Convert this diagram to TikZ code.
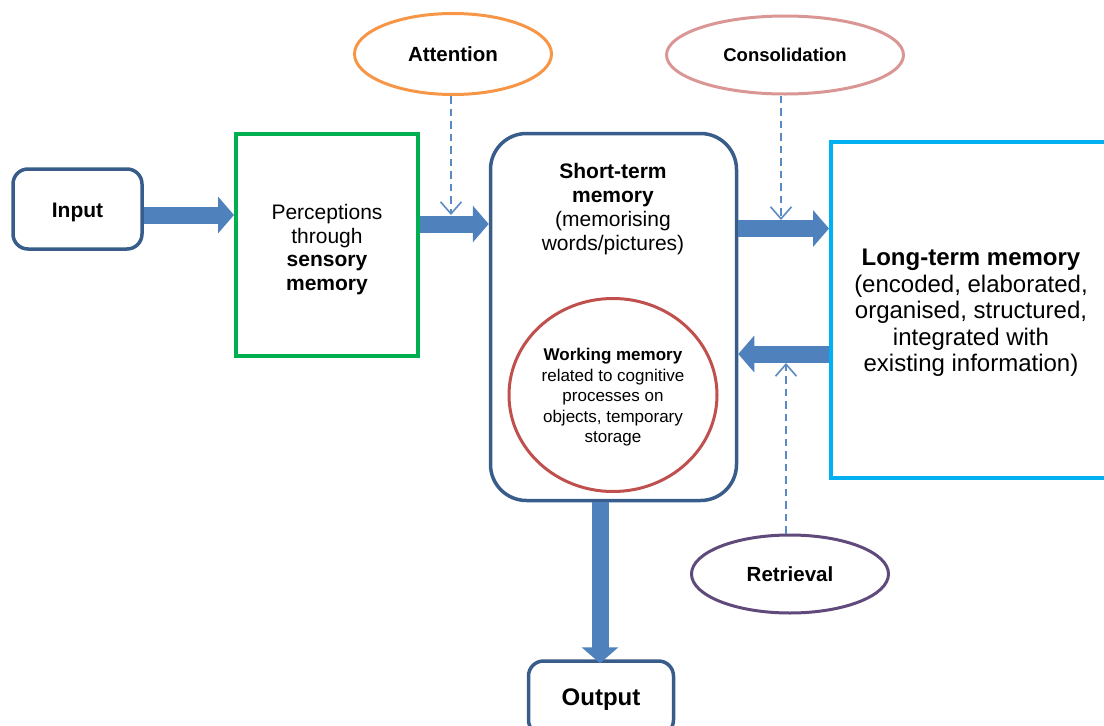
\documentclass[tikz,border=0pt]{standalone}
\usepackage{fontspec}
\setmainfont{Liberation Sans}
\usetikzlibrary{arrows.meta,shapes.geometric,calc}

\definecolor{frameblue}{HTML}{385D8A}
\definecolor{flowblue}{HTML}{4F81BD}
\definecolor{dashblue}{HTML}{5A89C3}
\definecolor{sensegreen}{HTML}{00B050}
\definecolor{longcyan}{HTML}{00B0F0}
\definecolor{attorange}{HTML}{F79646}
\definecolor{conspink}{HTML}{D99694}
\definecolor{retrpurple}{HTML}{604A7B}
\definecolor{workred}{HTML}{C0504D}

\tikzset{
  fs/.style 2 args={font=\fontsize{#1}{#2}\selectfont},
  roundbox/.style={draw=frameblue, line width=3.5pt, rounded corners=15pt,
    inner sep=0pt},
  plainbox/.style={draw=#1, line width=4pt, inner sep=0pt},
  oval/.style={ellipse, draw=#1, line width=3pt, inner sep=0pt, align=center},
  caption/.style={align=center, inner sep=0pt},
  blockarrow/.style={draw=flowblue, line width=17pt,
    -{Triangle[length=16pt,width=36pt]}, flowblue},
  dasharrow/.style={draw=dashblue, line width=1.6pt, dash pattern=on 7.5pt off 5pt,
    -{Straight Barb[length=12pt,width=21pt]}},
}

\begin{document}
\begin{tikzpicture}[x=1pt,y=-1pt]
\useasboundingbox (0,0) rectangle (1104,726);

% boxes
\node[roundbox, minimum width=129pt, minimum height=80pt] (input) at (77.5,209) {};
\node[caption, fs={21}{24}] (inputtext) at ([yshift=-3.5pt]input.center) {\textbf{Input}};

\node[plainbox=sensegreen, minimum width=182pt, minimum height=222pt] (sense) at (327,245) {};
\node[caption, fs={21}{23.8}] (sensetext) at ([yshift=-4.5pt]sense.center)
      {Perceptions\\through\\\textbf{sensory}\\\textbf{memory}};

\node[roundbox, rounded corners=36pt, minimum width=246pt, minimum height=367pt] (stm) at (613.5,317) {};
\node[caption, fs={21}{24}] (stmtext) at (613,209)
      {\textbf{Short-term}\\\textbf{memory}\\(memorising\\words/pictures)};

\node[oval=workred, minimum width=208pt, minimum height=193pt] (work) at (613,395) {};
\node[caption, fs={17}{20.5}] (worktext) at (613,397.5)
      {\textbf{Working memory}\\related to cognitive\\processes on\\objects, temporary\\storage};

\node[plainbox=longcyan, minimum width=276pt, minimum height=336pt] (ltm) at (969,310) {};
\node[caption, fs={24}{26.5}] (ltmtext) at (971,313)
      {\fontsize{24}{28}\selectfont\textbf{Long-term memory}\\(encoded, elaborated,\\organised, structured,\\integrated with\\existing information)};

\node[roundbox, minimum width=145pt, minimum height=74pt] (output) at (601,698) {};
\node[caption, fs={24}{28}] (outputtext) at ([yshift=-1.5pt]output.center) {\textbf{Output}};

% control processes
\node[oval=attorange, minimum width=197pt, minimum height=81pt, fs={20.5}{24}] (att) at (453,54) {\textbf{Attention}};
\node[oval=conspink, minimum width=237pt, minimum height=78pt, fs={18.5}{22}] (cons) at (785,55) {\textbf{Consolidation}};
\node[oval=retrpurple, minimum width=197pt, minimum height=78pt, fs={20.5}{24}] (retr) at (790,574) {\textbf{Retrieval}};

% rows and columns of the flow arrows
\coordinate (rowA) at (0,215);
\coordinate (rowB) at (0,224);
\coordinate (rowC) at (0,228.5);
\coordinate (rowD) at (0,354);
\coordinate (colE) at (600,0);

\draw[blockarrow] (input.east |- rowA) -- (sense.west |- rowA);
\draw[blockarrow] (sense.east |- rowB) -- (stm.west |- rowB);
\draw[blockarrow] (stm.east |- rowC) -- (ltm.west |- rowC);
\draw[blockarrow] (ltm.west |- rowD) -- (stm.east |- rowD);
\draw[blockarrow] (stm.south -| colE) -- ([yshift=-4pt]output.north -| colE);

% dashed control links
\coordinate (attTip) at (451,215);
\coordinate (consTip) at (781,220);
\coordinate (retrTip) at (786,363);
\draw[dasharrow] (attTip |- att.south) -- (attTip);
\draw[dasharrow] (consTip |- cons.south) -- (consTip);
\draw[dasharrow] (retrTip |- retr.north) -- (retrTip);
\end{tikzpicture}
\end{document}
